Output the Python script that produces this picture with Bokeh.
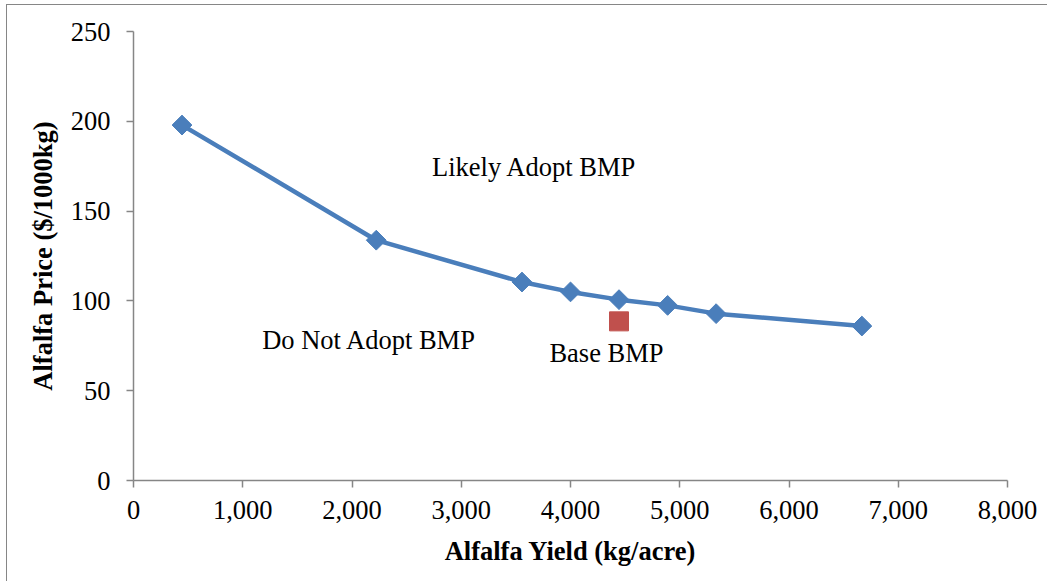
import math
from bokeh.plotting import figure
from bokeh.models import NumeralTickFormatter, FixedTicker, Range1d, InlineStyleSheet
from bokeh.core.properties import value
from bokeh.embed import file_html
from bokeh.resources import INLINE

# Data
yield_kg = [444, 2222, 3556, 4000, 4444, 4889, 5333, 6667]
price = [197.9, 133.8, 110.5, 105.0, 100.7, 97.5, 92.9, 86.0]
base_x = [4444]
base_y = [88.6]
labels = ["Likely Adopt BMP", "Do Not Adopt BMP", "Base BMP"]
label_x = [3669, 2158, 4329]
label_y = [174.5, 78, 70.8]
x_ticks = [0, 1000, 2000, 3000, 4000, 5000, 6000, 7000, 8000]
y_ticks = [0, 50, 100, 150, 200, 250]

FONT = "Liberation Serif"
FS = "26.5px"

p = figure(width=1047, height=581, output_backend="svg", toolbar_location=None,
           x_range=Range1d(0, 8000), y_range=Range1d(0, 250),
           min_border_left=133, min_border_right=40, min_border_top=31, min_border_bottom=101)
p.outline_line_color = None
p.xgrid.visible = False
p.ygrid.visible = False

for ax in (p.xaxis[0], p.yaxis[0]):
    ax.axis_line_color = "#868686"
    ax.axis_line_width = 1.5
    ax.major_tick_line_color = "#868686"
    ax.major_tick_line_width = 1.5
    ax.major_tick_out = 7
    ax.major_tick_in = 0
    ax.minor_tick_line_color = None
    ax.major_label_text_font = FONT
    ax.major_label_text_font_size = FS
    ax.major_label_text_color = "black"
    ax.axis_label_text_font = FONT
    ax.axis_label_text_font_size = FS
    ax.axis_label_text_font_style = "bold"
    ax.axis_label_text_color = "black"

p.xaxis.ticker = FixedTicker(ticks=x_ticks)
p.yaxis.ticker = FixedTicker(ticks=y_ticks)
p.xaxis.formatter = NumeralTickFormatter(format="0,0")
p.xaxis.axis_label = "Alfalfa Yield (kg/acre)"
p.yaxis.axis_label = "Alfalfa Price ($/1000kg)"
p.xaxis.major_label_standoff = 13
p.yaxis.major_label_standoff = 16
p.xaxis.axis_label_standoff = 14
p.yaxis.axis_label_standoff = 10

p.line(yield_kg, price, line_color="#4A7EBB", line_width=4.5)
p.scatter(yield_kg, price, marker="square", angle=math.pi / 4, size=14,
          fill_color="#4A7EBB", line_color="#4A7EBB")
p.scatter(base_x, base_y, marker="square", size=19, fill_color="#C0504D", line_color="#C0504D")

p.text(label_x, label_y, text=labels, text_font=value(FONT), text_font_size=FS,
       text_align="center", text_baseline="middle", text_color="black")

p.stylesheets = [InlineStyleSheet(css="""
:host { position: relative; }
:host::after { content: ""; position: absolute; left: 6px; top: 3.5px; width: 1100px; height: 700px;
  border-left: 1.5px solid #868686; border-top: 1.5px solid #868686; pointer-events: none; }
""")]

open("out.html", "w").write(file_html(p, INLINE))
